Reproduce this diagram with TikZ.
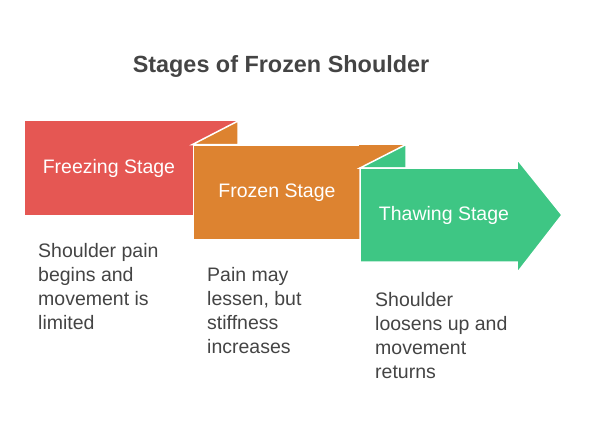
\documentclass[tikz,border=0pt]{standalone}
\usepackage{fontspec}
\setmainfont{Liberation Sans}
\usepackage{tikz}

\definecolor{freezered}{HTML}{E55753}
\definecolor{frozenorange}{HTML}{DD8330}
\definecolor{thawgreen}{HTML}{3EC684}
\definecolor{textgray}{HTML}{444444}

\tikzset{
	stagebox/.style={rectangle,anchor=north west,minimum width=167.5pt,minimum height=94pt,inner sep=0pt,text=white,font=\fontsize{19.5}{22}\selectfont},
	desc/.style={anchor=north west,inner sep=0pt,align=left,text=textgray,font=\fontsize{19.5}{24}\selectfont},
	fold/.style={draw=white,line width=1.5pt}
}

\begin{document}
\begin{tikzpicture}[x=1pt,y=-1pt]
	
		\useasboundingbox (0,0) rectangle (589,432);
		
		\node[text=textgray,font=\fontsize{23.4}{26}\selectfont\bfseries] (title) at (281,66) {Stages of Frozen Shoulder};
		
		\node[stagebox,fill=freezered] (freeze) at (25,121) {Freezing Stage};
		\fill[freezered] (192,121) rectangle (238,145);
		\path[fill=frozenorange,fold] (192.5,144.5) -- (238,121) -- (238,144.5) -- cycle;
		\node[stagebox,fill=frozenorange,fold] (frozen) at (192.5,144.5) {Frozen Stage};
		
		\fill[frozenorange] (359,144.5) rectangle (406,168.5);
		\path[fill=thawgreen,fold] (360,168) -- (406,144.5) -- (406,168) -- cycle;
		\path[fill=thawgreen,fold] (360,168) -- (517,168) -- (517,159) -- (562,215) -- (517,273) -- (517,262) -- (360,262) -- cycle;
		\node[stagebox] (thaw) at (360,168) {Thawing Stage};
		
		\node[desc] (freezetext) at (38,243.5) {Shoulder pain\\begins and\\movement is\\limited};
		\node[desc] (frozentext) at (207,267.5) {Pain may\\lessen, but\\stiffness\\increases};
		\node[desc] (thawtext) at (375,292.5) {Shoulder\\loosens up and\\movement\\returns};
		
	\end{tikzpicture}
\end{document}
